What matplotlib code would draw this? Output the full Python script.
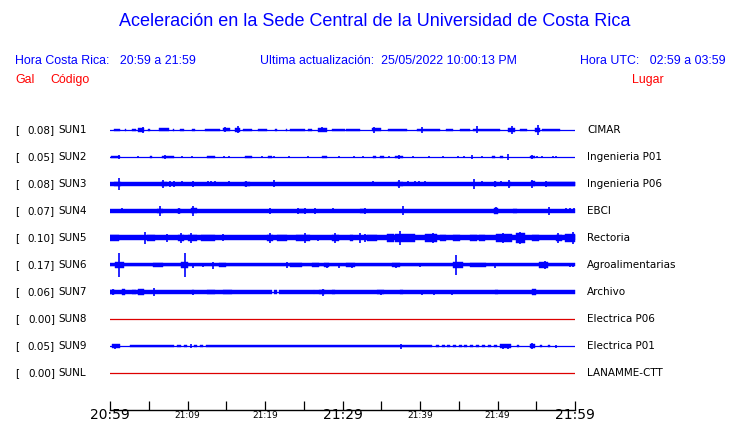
import numpy as np
import matplotlib
matplotlib.use('Agg')
import matplotlib.pyplot as plt
import matplotlib.transforms as mtransforms

# stations (top to bottom)
codes = ['SUN1', 'SUN2', 'SUN3', 'SUN4', 'SUN5', 'SUN6', 'SUN7', 'SUN8', 'SUN9', 'SUNL']
gal = [0.08, 0.05, 0.08, 0.07, 0.10, 0.17, 0.06, 0.00, 0.05, 0.00]
places = ['CIMAR', 'Ingenieria P01', 'Ingenieria P06', 'EBCI', 'Rectoria',
          'Agroalimentarias', 'Archivo', 'Electrica P06', 'Electrica P01', 'LANAMME-CTT']

# envelope: (start min, end min, half amplitude) and (min, half amplitude)
sun1_bands = [(0.55, 1.3, 1.3), (1.9, 2.1, 1.1), (2.8, 3.4, 1.3), (3.65, 4.4, 1.7), (4.9, 5.2, 1.1),
              (6.3, 7.6, 1.5), (8.1, 8.3, 1.1), (9.0, 9.6, 1.1), (10.6, 11.0, 1.3), (12.2, 14.2, 1.3),
              (14.6, 15.5, 1.5), (16.1, 16.8, 1.7), (17.2, 18.3, 1.3), (19.1, 20.3, 1.3), (21.3, 21.5, 1.0),
              (22.7, 22.9, 1.0), (23.2, 25.2, 1.3), (25.6, 26.0, 1.3), (26.8, 28.0, 1.7), (28.6, 30.3, 1.3),
              (30.5, 32.3, 1.3), (33.8, 35.0, 1.5), (35.9, 38.3, 1.3), (39.6, 42.6, 1.4), (43.4, 44.3, 1.3),
              (45.2, 46.5, 1.3), (46.9, 50.3, 1.3), (51.4, 52.3, 2.0), (52.9, 53.8, 1.3), (54.8, 55.5, 2.2),
              (55.7, 58.1, 1.2)]
sun1_peaks = [(4.2, 3.0), (14.9, 2.5), (16.5, 3.5), (27.4, 2.5), (34.0, 3.0), (40.3, 3.0),
              (47.4, 3.5), (51.9, 4.0), (55.2, 5.0)]

sun2_bands = [(0.1, 1.3, 1.3), (5.1, 5.4, 1.2), (6.75, 8.2, 1.3), (12.5, 13.5, 1.2), (17.4, 18.3, 1.3),
              (20.4, 20.9, 1.2), (27.3, 28.0, 1.2), (33.9, 34.3, 1.3), (34.8, 35.3, 1.3), (36.8, 37.8, 1.3),
              (49.3, 49.7, 1.2), (50.3, 50.7, 1.2), (54.2, 54.8, 1.3)]
sun2_peaks = [(1.1, 2.3), (3.65, 1.2), (7.1, 2.0), (9.25, 1.2), (10.6, 1.2), (14.75, 1.2), (15.3, 1.2),
              (19.6, 1.2), (21.1, 1.2), (23.1, 1.0), (25.6, 1.0), (29.5, 1.0), (31.5, 1.0), (32.7, 1.0),
              (36.0, 1.2), (37.3, 2.0), (39.1, 1.2), (41.2, 1.2), (43.0, 1.0), (44.9, 1.0), (45.7, 1.0),
              (46.75, 2.0), (48.0, 1.2), (51.4, 3.0), (54.5, 2.0), (55.1, 1.0), (55.7, 1.0), (57.2, 1.2),
              (57.5, 1.2)]

sun3_bands = [(0, 60, 1.7), (56.3, 60, 2.2), (0.5, 1.4, 2.2), (6.6, 7.4, 2.3), (17.3, 18.0, 2.1),
              (37.0, 37.8, 2.3), (49.5, 49.9, 2.1), (51.3, 51.7, 2.3), (54.3, 54.8, 2.5)]
sun3_peaks = [(1.1, 6.0), (6.9, 3.7), (7.7, 3.0), (8.3, 3.0), (9.25, 2.5), (10.7, 2.8), (11.9, 2.3),
              (12.6, 2.5), (13.0, 2.5), (13.5, 2.5), (15.3, 2.5), (16.9, 2.3), (17.6, 3.0), (21.1, 3.5),
              (28.0, 2.3), (33.9, 2.5), (34.6, 2.3), (35.1, 2.3), (37.3, 4.0), (38.4, 2.5), (39.3, 2.5),
              (39.9, 2.5), (40.7, 2.5), (43.0, 2.3), (47.0, 5.0), (48.0, 2.5), (49.7, 3.0), (50.4, 2.5),
              (51.5, 4.0), (54.5, 4.0), (56.3, 2.8)]

sun4_bands = [(0, 60, 1.8), (6.1, 6.9, 2.3), (8.7, 9.2, 2.3), (10.4, 11.2, 2.5), (24.2, 25.3, 2.1),
              (32.3, 32.9, 2.2), (49.6, 50.0, 3.0), (52.0, 52.5, 2.1)]
sun4_peaks = [(1.6, 2.5), (4.2, 2.2), (6.4, 5.0), (8.9, 2.7), (10.75, 5.0), (18.9, 2.2), (20.6, 2.7),
              (21.7, 2.2), (22.8, 2.2), (24.3, 2.7), (25.1, 3.0), (26.5, 2.7), (27.4, 2.3), (28.8, 2.5),
              (32.9, 3.0), (37.8, 4.5), (42.2, 2.3), (44.0, 2.3), (45.2, 2.3), (47.0, 2.3), (49.8, 3.5),
              (56.7, 4.0), (58.9, 2.5), (59.4, 2.5), (59.9, 2.5)]

sun5_bands = [(0, 60, 2.5), (0, 1.1, 2.9), (4.8, 5.8, 2.9), (8.8, 9.5, 3.4), (10.0, 11.2, 3.4),
              (11.8, 13.5, 2.9), (20.3, 21.0, 3.1), (21.6, 22.8, 2.9), (24.0, 25.8, 3.4), (28.7, 29.5, 3.1),
              (31.0, 31.4, 3.4), (33.1, 34.5, 2.9), (35.7, 36.6, 3.9), (36.8, 39.3, 4.0), (40.6, 42.2, 3.7),
              (42.6, 43.4, 3.4), (44.2, 45.2, 3.1), (46.5, 47.3, 2.8), (47.6, 48.4, 2.9), (49.8, 51.9, 3.7),
              (52.4, 53.5, 4.5), (54.5, 55.3, 2.9), (57.5, 58.3, 3.4), (58.7, 60, 3.7)]
sun5_peaks = [(4.5, 6.0), (7.3, 4.0), (9.2, 4.5), (10.45, 5.0), (14.6, 3.5), (20.7, 5.0), (25.2, 4.5),
              (26.9, 3.0), (29.0, 5.0), (32.2, 5.0), (32.9, 4.0), (37.4, 7.0), (41.7, 5.0), (50.7, 5.0),
              (52.9, 6.0), (57.8, 5.0), (59.8, 6.0)]

sun6_bands = [(0, 60, 1.5), (0.7, 1.8, 3.0), (5.5, 6.9, 1.9), (9.1, 10.0, 2.6), (14.0, 15.0, 1.9),
              (23.2, 24.8, 1.9), (26.0, 27.0, 1.9), (27.6, 28.2, 2.2), (30.4, 31.6, 1.9), (36.4, 37.4, 2.2),
              (44.3, 45.6, 3.0), (46.5, 48.5, 2.2), (55.4, 56.5, 2.6)]
sun6_peaks = [(1.1, 12.0), (9.7, 12.0), (10.75, 2.5), (12.0, 2.0), (13.3, 3.5), (22.9, 3.0), (28.0, 2.5),
              (29.5, 2.5), (31.2, 2.5), (36.9, 2.5), (40.0, 2.0), (44.7, 10.0), (49.7, 2.5), (56.1, 4.0),
              (59.4, 2.0), (59.8, 2.0)]

sun7_bands = [(0, 20.9, 1.8), (21.2, 21.5, 1.6), (21.8, 26.3, 1.6), (26.3, 60, 1.8), (0, 0.6, 2.4),
              (1.5, 1.9, 2.7), (2.8, 3.4, 2.4), (3.65, 4.4, 2.7), (10.6, 10.9, 2.4), (12.5, 13.5, 2.2),
              (14.6, 15.7, 2.2), (27.0, 27.8, 2.2), (28.7, 29.0, 2.1), (34.4, 35.3, 2.4), (37.4, 37.8, 2.4),
              (49.7, 50.0, 2.4), (54.4, 55.0, 2.7)]
sun7_peaks = [(0.4, 3.0), (1.7, 3.0), (5.7, 4.0), (10.75, 2.5), (27.5, 3.5), (35.0, 2.5), (40.2, 2.5),
              (41.8, 2.5), (42.6, 2.3), (44.1, 2.5), (44.7, 2.3), (45.5, 2.3), (48.6, 2.3), (54.7, 3.0)]

sun9_bands = [(0.2, 1.3, 1.8), (2.6, 8.2, 1.4), (8.7, 9.1, 1.1), (9.5, 9.9, 1.1), (10.8, 11.2, 1.1),
              (11.6, 12.0, 1.1), (12.4, 41.5, 1.4), (42.0, 42.4, 1.1), (42.8, 43.2, 1.1), (43.5, 43.9, 1.1),
              (44.3, 44.7, 1.1), (45.0, 45.4, 1.1), (45.7, 46.1, 1.1), (46.5, 46.9, 1.1), (47.2, 47.6, 1.1),
              (48.0, 48.4, 1.1), (48.8, 49.2, 1.1), (49.5, 49.9, 1.1), (50.3, 51.8, 1.7), (52.5, 52.8, 1.1),
              (54.2, 54.8, 1.8), (55.5, 55.8, 1.1), (56.5, 56.8, 1.1)]
sun9_peaks = [(0.7, 2.5), (10.4, 2.0), (37.5, 2.5), (50.7, 2.5), (51.3, 2.5), (54.5, 3.0), (57.6, 1.5)]

bands = [sun1_bands, sun2_bands, sun3_bands, sun4_bands, sun5_bands,
         sun6_bands, sun7_bands, [], sun9_bands, []]
peaks = [sun1_peaks, sun2_peaks, sun3_peaks, sun4_peaks, sun5_peaks,
         sun6_peaks, sun7_peaks, [], sun9_peaks, []]

tick_min = list(range(0, 61, 5))
label_min = [0, 10, 20, 30, 40, 50, 60]
big_min = [0, 30, 60]

blue = '#0000ff'
red = '#ff0000'
dead = '#dd0000'

W, H = 740, 423
fig = plt.figure(figsize=(W / 100, H / 100), dpi=100)

# header
hf = 'Liberation Sans'
fig.text(375 / W, 1 - 22 / H, 'Aceleración en la Sede Central de la Universidad de Costa Rica',
         color=blue, fontsize=13, family=hf, ha='center', va='center')
fig.text(15 / W, 1 - 61 / H, 'Hora Costa Rica:   20:59 a 21:59', color=blue,
         fontsize=8.9, family=hf, va='center')
fig.text(260 / W, 1 - 61 / H, 'Ultima actualización:  25/05/2022 10:00:13 PM', color=blue,
         fontsize=8.9, family=hf, va='center')
fig.text(726 / W, 1 - 61 / H, 'Hora UTC:   02:59 a 03:59', color=blue,
         fontsize=8.9, family=hf, va='center', ha='right')
fig.text(15 / W, 1 - 80 / H, 'Gal', color=red, fontsize=8.9, family=hf, va='center')
fig.text(50 / W, 1 - 80 / H, 'Código', color=red, fontsize=8.9, family=hf, va='center')
fig.text(664 / W, 1 - 80 / H, 'Lugar', color=red, fontsize=8.9, family=hf,
         va='center', ha='right')

# traces
ax = fig.add_axes([110 / W, (H - 386.5) / H, 465 / W, 270 / H])
ax.set_xlim(0, 60)
ax.set_ylim(len(codes) - 0.5, -0.5)
ax.axis('off')
gain = 1 / 27.0

for i in range(len(codes)):
    if gal[i] == 0:
        ax.plot([0, 60], [i, i], color=dead, lw=0.9)
        continue
    ax.plot([0, 60], [i, i], color=blue, lw=0.9)
    for t0, t1, h in bands[i]:
        ax.fill_between([t0, t1], i - h * gain, i + h * gain, color=blue, lw=0.3)
    for t, h in peaks[i]:
        ax.vlines(t, i - h * gain, i + h * gain, color=blue, lw=1.2)

lab = mtransforms.blended_transform_factory(fig.transFigure, ax.transData)
for i in range(len(codes)):
    ax.text(15 / W, i, '[', transform=lab, fontsize=7.5, va='center', clip_on=False)
    ax.text(55 / W, i, '%.2f]' % gal[i], transform=lab, fontsize=7.5, va='center', ha='right', clip_on=False)
    ax.text(58 / W, i, codes[i], transform=lab, fontsize=7.5, va='center', clip_on=False)
    ax.text(587 / W, i, places[i], transform=lab, fontsize=7.5, va='center', clip_on=False)

# time axis
ax2 = fig.add_axes([110 / W, (H - 409.5) / H, 465 / W, 9 / H])
ax2.set_xlim(0, 60)
ax2.set_ylim(0, 1)
for s in ['left', 'right', 'top']:
    ax2.spines[s].set_visible(False)
ax2.spines['bottom'].set_linewidth(1.0)
ax2.set_yticks([])
ax2.set_xticks(tick_min)
names = []
for m in tick_min:
    if m in label_min:
        tot = 20 * 60 + 59 + m
        names.append('%d:%02d' % (tot // 60, tot % 60))
    else:
        names.append('')
ax2.set_xticklabels(names)
ax2.tick_params(axis='x', direction='in', length=6.5, width=0.9, pad=4.3)
for m, t in zip(tick_min, ax2.get_xticklabels()):
    t.set_fontsize(10 if m in big_min else 6.5)
    t.set_va('center')

fig.savefig('out.png', dpi=100)
